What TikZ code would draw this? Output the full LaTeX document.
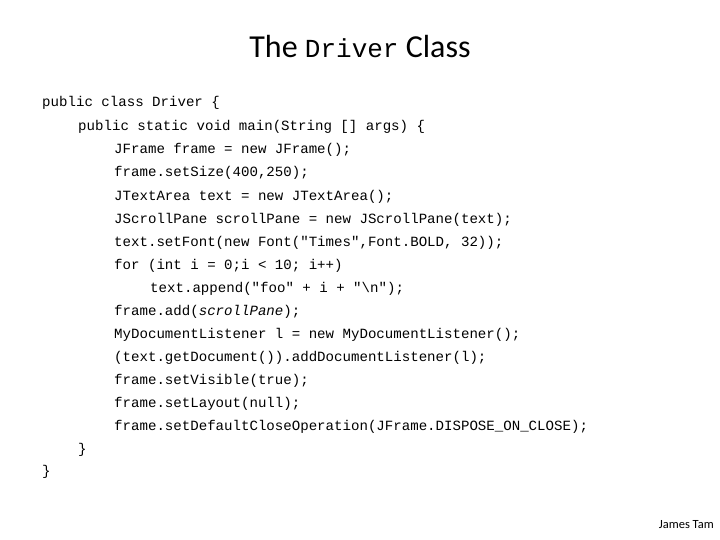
\documentclass[tikz,border=0pt]{standalone}
\usepackage{fontspec}
\setmainfont{Carlito}
\setmonofont{Liberation Mono}
\begin{document}
\begin{tikzpicture}[x=1pt,y=-1pt,
  code/.style={anchor=west,inner sep=0pt,font=\fontsize{14.1}{14.1}\selectfont\ttfamily}]
\useasboundingbox (0,0) rectangle (720,540);
\node[font=\fontsize{32}{32}\selectfont] (title) at (360,47) {The {\ttfamily\fontsize{26}{26}\selectfont Driver} Class};
\node[code] (l1) at (42,103) {public class Driver \{};
\node[code] (l2) at (78,127) {public static void main(String [] args) \{};
\node[code] (l3) at (114,150) {JFrame frame = new JFrame();};
\node[code] (l4) at (114,173) {frame.setSize(400,250);};
\node[code] (l5) at (114,197) {JTextArea text = new JTextArea();};
\node[code] (l6) at (114,220) {JScrollPane scrollPane = new JScrollPane(text);};
\node[code] (l7) at (114,243) {text.setFont(new Font("Times",Font.BOLD, 32));};
\node[code] (l8) at (114,266) {for (int i = 0;i < 10; i++)};
\node[code] (l9) at (150,289) {text.append("foo" + i + "\textbackslash n");};
\node[code] (l10) at (114,312) {frame.add(\textit{scrollPane});};
\node[code] (l11) at (114,335) {MyDocumentListener l = new MyDocumentListener();};
\node[code] (l12) at (114,358) {(text.getDocument()).addDocumentListener(l);};
\node[code] (l13) at (114,381) {frame.setVisible(true);};
\node[code] (l14) at (114,404) {frame.setLayout(null);};
\node[code] (l15) at (114,427) {frame.setDefaultCloseOperation(JFrame.DISPOSE\_ON\_CLOSE);};
\node[code] (l16) at (78,450) {\}};
\node[code] (l17) at (42,472) {\}};
\node[anchor=east,inner sep=0pt,font=\fontsize{12.5}{12.5}\selectfont] (auth) at (714,525) {James Tam};
\end{tikzpicture}
\end{document}
